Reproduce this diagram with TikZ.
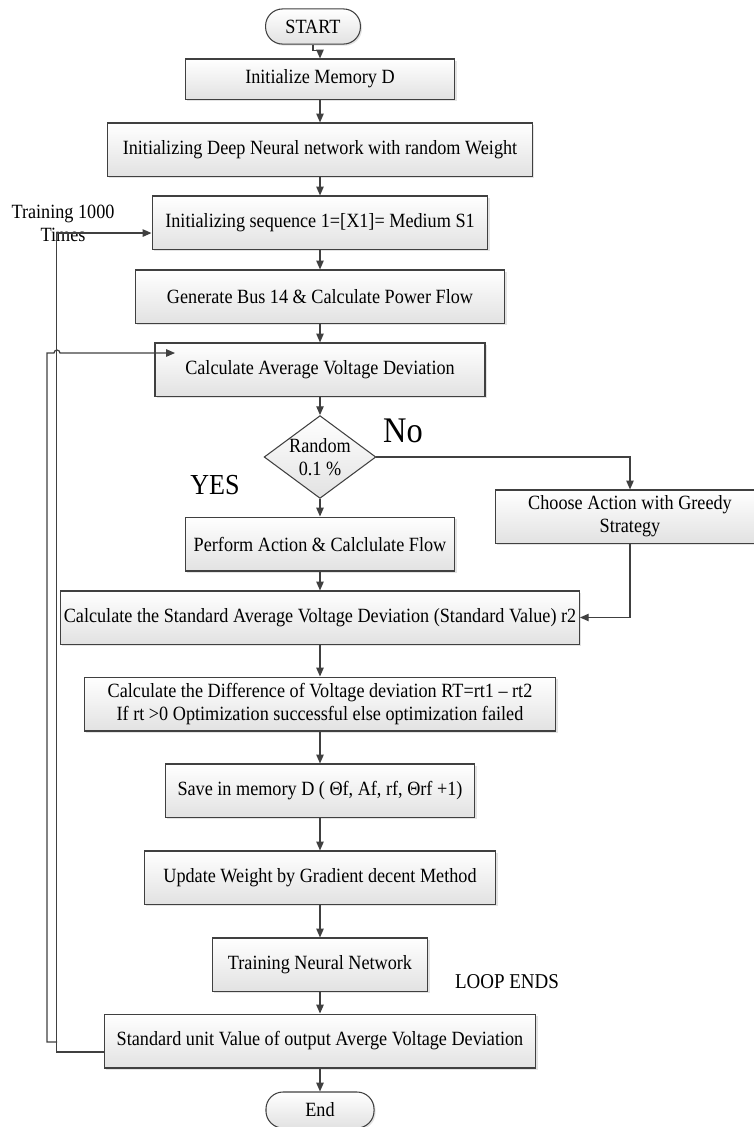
\documentclass[tikz,border=0pt]{standalone}
\usepackage{fontspec}
\setmainfont[FakeStretch=0.9]{Liberation Serif}
\usetikzlibrary{shapes.geometric,shadows,arrows.meta}

\definecolor{linegray}{HTML}{404040}
\definecolor{boxgray}{HTML}{E2E2E2}

\begin{document}
\begin{tikzpicture}[x=0.02cm, y=-0.02cm,
        font=\fontsize{11.5}{13}\selectfont,
        >={Triangle[length=5pt,width=4.2pt]},
        line/.style={draw=linegray, line width=0.7pt},
        procbox/.style={rectangle, draw=linegray, line width=0.6pt, top color=white, bottom color=boxgray,
            drop shadow={shadow xshift=0.9pt, shadow yshift=-0.9pt, fill=black!22},
            inner sep=1pt, align=center, minimum height=30.2pt},
        termbox/.style={procbox, rounded corners=9.7pt, minimum height=20pt},
        decbox/.style={diamond, draw=linegray, line width=0.6pt, top color=white, bottom color=boxgray,
            inner sep=0pt, aspect=1.35, align=center, minimum width=61.5pt, minimum height=45.5pt}]
        \useasboundingbox (0,0) rectangle (754,1127);
        \clip (0,0) rectangle (754,1127);

        % Nodes
        \node[termbox, minimum width=54pt] (start) at (313,26.5) {START};
        \node[procbox, minimum width=153.6pt, minimum height=22.8pt] (mem) at (320,79) {Initialize Memory D};
        \node[procbox, minimum width=241.8pt] (dnn) at (320,149.5) {Initializing Deep Neural network with random Weight};
        \node[procbox, minimum width=191.2pt] (seq) at (320,222.5) {Initializing sequence 1=[X1]= Medium S1};
        \node[procbox, minimum width=210.5pt] (bus) at (320,296.5) {Generate Bus 14 \& Calculate Power Flow};
        \node[procbox, minimum width=187.8pt] (avg) at (320,369.5) {Calculate Average Voltage Deviation};
        \node[decbox] (rand) at (320,457) {Random\\0.1 \%};
        \node[procbox, minimum width=153.6pt, minimum height=30.7pt] (act) at (320,544) {Perform Action \& Calclulate Flow};
        \node[procbox, minimum width=153.6pt] (greedy) at (630,516.5) {Choose Action with Greedy\\Strategy};
        \node[procbox, minimum width=295.3pt] (std) at (320,617.5) {Calculate the Standard Average Voltage Deviation (Standard Value) r2};
        \node[procbox, minimum width=268.6pt, minimum height=30.7pt] (diff) at (320,704) {Calculate the Difference of Voltage deviation RT=rt1 – rt2\\If rt >0 Optimization successful else optimization failed};
        \node[procbox, minimum width=176.4pt] (save) at (320,790.5) {Save in memory D ( Θf, Af, rf, Θrf +1)};
        \node[procbox, minimum width=200.3pt] (grad) at (320,877.5) {Update Weight by Gradient decent Method};
        \node[procbox, minimum width=122.9pt] (train) at (320,964.5) {Training Neural Network};
        \node[procbox, minimum width=245.8pt, minimum height=30.7pt] (unit) at (320,1041) {Standard unit Value of output Averge Voltage Deviation};
        \node[termbox, minimum width=61.5pt, minimum height=20.5pt] (stop) at (320,1110) {End};

        % Labels
        \node[align=center] (reps) at (63,223.5) {Training 1000\\Times};
        \node[font=\fontsize{20.5}{24}\selectfont] (no) at (403,431) {No};
        \node[font=\fontsize{16.5}{20}\selectfont] (yes) at (215,485) {YES};
        \node[font=\fontsize{12}{14}\selectfont] (loopend) at (507,982) {LOOP ENDS};

        % Edges
        \draw[line, ->] (start.south) -- ++(0,6) -| (mem.north);
        \draw[line, ->] (mem) -- (dnn);
        \draw[line, ->] (dnn) -- (seq);
        \draw[line, ->] (seq) -- (bus);
        \draw[line, ->] (bus) -- (avg);
        \draw[line, ->] (avg) -- (rand);
        \draw[line, ->] (rand) -- (act);
        \draw[line, ->] (rand.east) -| (greedy.north);
        \draw[line, ->] (act) -- (std);
        \draw[line, ->] (greedy.south) |- (std.east);
        \draw[line, ->] (std) -- (diff);
        \draw[line, ->] (diff) -- (save);
        \draw[line, ->] (save) -- (grad);
        \draw[line, ->] (grad) -- (train);
        \draw[line, ->] (train) -- (unit);
        \draw[line, ->] (unit) -- (stop);

        % Loops back
        \coordinate (split) at (57,1042);
        \coordinate (avgin) at (175,353);
        \draw[line, ->] ([yshift=-6.3pt]unit.west) -- ++(-47,0) |- ([yshift=-6pt]seq.west);
        \draw[line, ->] (split) -- ++(-10,0) -- ++(0,-689) -- ++(7,0) arc[start angle=180, end angle=360, radius=3] -- (avgin);
    \end{tikzpicture}
\end{document}
